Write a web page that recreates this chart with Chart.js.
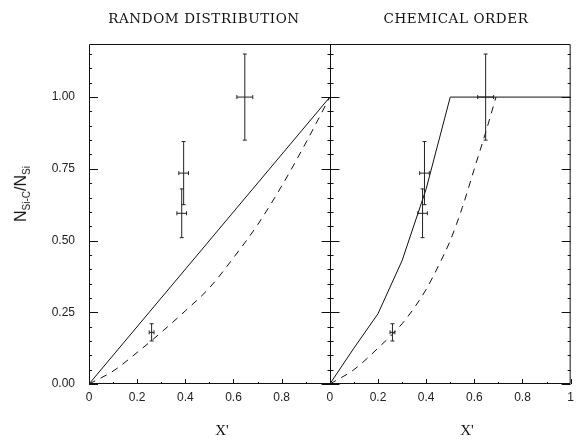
<!DOCTYPE html>
<html lang="en">
<head>
  <meta charset="UTF-8" />
  <title>N Si-C / N Si vs X'</title>
  <script src="https://cdn.jsdelivr.net/npm/chart.js"></script>
  <style>
    body { margin: 0; background: #fff; }
    #wrap { position: relative; width: 580px; height: 440px; }
    canvas { position: absolute; left: 0; top: 0; }
    .txt {
      position: absolute;
      transform: translate(-50%, -50%);
      white-space: nowrap;
      color: #111;
    }
    .title { font-family: "DejaVu Serif", serif; font-size: 13.5px; letter-spacing: 0.6px; }
    .xlab { font-family: "Liberation Serif", serif; font-size: 15px; }
    .ylab {
      font-family: "Liberation Sans", Arial, sans-serif;
      font-size: 16px;
      transform: translate(-50%, -50%) rotate(-90deg);
    }
    .ylab sub { font-size: 10px; }
  </style>
</head>
<body>
  <div id="wrap">
    <canvas id="chart" width="580" height="440"></canvas>
    <div class="txt title" style="left:204px; top:18px;">RANDOM DISTRIBUTION</div>
    <div class="txt title" style="left:456px; top:18px;">CHEMICAL ORDER</div>
    <div class="txt ylab" style="left:22px; top:194px;">N<sub>Si-C</sub>/N<sub>Si</sub></div>
    <div class="txt xlab" style="left:222px; top:430px;">X'</div>
    <div class="txt xlab" style="left:467px; top:430px;">X'</div>
  </div>

  <script>
    // measured points (same data drawn in both panels)
    const ptX    = [0.26, 0.385, 0.393, 0.647];
    const ptY    = [0.18, 0.595, 0.735, 1.00];
    const ptXErr = [0.01, 0.02, 0.02, 0.033];
    const ptYErr = [0.03, 0.085, 0.11, 0.15];

    // random distribution model
    const randomSolidX  = [0, 1];
    const randomSolidY  = [0, 1];
    const randomDashX   = [0, 0.1, 0.2, 0.3, 0.4, 0.5, 0.6, 0.7, 0.8, 0.9, 1.0];
    const randomDashY   = [0, 0.045, 0.11, 0.18, 0.255, 0.335, 0.44, 0.555, 0.69, 0.84, 1.0];

    // chemical order model
    const orderSolidX = [0, 0.1, 0.2, 0.3, 0.4, 0.5, 1.0];
    const orderSolidY = [0, 0.125, 0.245, 0.43, 0.68, 1.0, 1.0];
    const orderDashX  = [0, 0.1, 0.2, 0.3, 0.35, 0.4, 0.45, 0.5, 0.55, 0.6, 0.65, 0.69];
    const orderDashY  = [0, 0.05, 0.125, 0.21, 0.265, 0.33, 0.41, 0.5, 0.615, 0.75, 0.885, 1.0];

    // axis ticks
    const yTicks = [0, 0.25, 0.5, 0.75, 1.0];
    const yTickLabels = ['0.00', '0.25', '0.50', '0.75', '1.00'];
    const xTicks = [0, 0.2, 0.4, 0.6, 0.8, 1.0, 1.2, 1.4, 1.6, 1.8, 2.0];
    const xTickLabels = ['0', '0.2', '0.4', '0.6', '0.8', '0', '0.2', '0.4', '0.6', '0.8', '1'];

    const OFFSET = 1; // right panel sits at x + 1 on the shared axis
    const Y_MAX = 1.185;

    const pts = (xs, ys, off) => xs.map((x, i) => ({ x: x + off, y: ys[i] }));

    const lineDs = (data, dashed, smooth) => ({
      type: 'line',
      data,
      borderColor: '#111',
      borderWidth: 1,
      borderDash: dashed ? [7, 6] : [],
      pointRadius: 0,
      fill: false,
      cubicInterpolationMode: smooth ? 'monotone' : 'default',
      tension: 0
    });

    const framePlugin = {
      id: 'frame',
      afterDatasetsDraw(chart) {
        const { ctx, chartArea: a, scales: { x, y } } = chart;
        ctx.save();
        ctx.strokeStyle = '#111';
        ctx.lineWidth = 1;
        ctx.beginPath();
        ctx.rect(a.left + 0.5, a.top + 0.5, a.right - a.left - 1, a.bottom - a.top - 1);
        const mid = Math.round(x.getPixelForValue(OFFSET)) + 0.5;
        ctx.moveTo(mid, a.top);
        ctx.lineTo(mid, a.bottom);
        ctx.stroke();

        // y ticks on left border, middle divider, right border
        ctx.beginPath();
        for (let k = 0; k * 0.05 <= Y_MAX; k++) {
          const py = Math.round(y.getPixelForValue(k * 0.05)) + 0.5;
          const len = k % 5 === 0 ? 9 : 3;
          ctx.moveTo(a.left, py); ctx.lineTo(a.left + len, py);
          ctx.moveTo(mid - len, py); ctx.lineTo(mid + len, py);
          ctx.moveTo(a.right, py); ctx.lineTo(a.right - len, py);
        }
        // x ticks along the bottom
        for (let k = 0; k <= 20; k++) {
          const px = Math.round(x.getPixelForValue(k * 0.1)) + 0.5;
          const len = k % 2 === 0 ? 5 : 2;
          ctx.moveTo(px, a.bottom); ctx.lineTo(px, a.bottom - len);
        }
        ctx.stroke();

        // error bars in both panels
        ctx.strokeStyle = '#222';
        ctx.beginPath();
        [0, OFFSET].forEach(off => {
          ptX.forEach((vx, i) => {
            const cx = x.getPixelForValue(vx + off);
            const cy = y.getPixelForValue(ptY[i]);
            const x0 = x.getPixelForValue(vx + off - ptXErr[i]);
            const x1 = x.getPixelForValue(vx + off + ptXErr[i]);
            const y0 = y.getPixelForValue(ptY[i] - ptYErr[i]);
            const y1 = y.getPixelForValue(ptY[i] + ptYErr[i]);
            ctx.moveTo(x0, cy); ctx.lineTo(x1, cy);
            ctx.moveTo(x0, cy - 2); ctx.lineTo(x0, cy + 2);
            ctx.moveTo(x1, cy - 2); ctx.lineTo(x1, cy + 2);
            ctx.moveTo(cx, y0); ctx.lineTo(cx, y1);
            ctx.moveTo(cx - 2, y0); ctx.lineTo(cx + 2, y0);
            ctx.moveTo(cx - 2, y1); ctx.lineTo(cx + 2, y1);
          });
        });
        ctx.stroke();
        ctx.restore();
      }
    };

    new Chart(document.getElementById('chart'), {
      type: 'line',
      data: {
        datasets: [
          lineDs(pts(randomSolidX, randomSolidY, 0), false, false),
          lineDs(pts(randomDashX, randomDashY, 0), true, true),
          lineDs(pts(orderSolidX, orderSolidY, OFFSET), false, false),
          lineDs(pts(orderDashX, orderDashY, OFFSET), true, true)
        ]
      },
      options: {
        responsive: false,
        animation: false,
        devicePixelRatio: 1,
        layout: { padding: { top: 44, right: 1, left: 0, bottom: 0 } },
        plugins: { legend: { display: false }, tooltip: { enabled: false } },
        scales: {
          x: {
            type: 'linear',
            min: 0,
            max: 2,
            grid: { display: false, drawTicks: false },
            border: { display: false },
            afterBuildTicks: s => { s.ticks = xTicks.map(v => ({ value: v })); },
            afterFit: s => { s.height = 56; },
            ticks: {
              padding: 6,
              maxRotation: 0,
              autoSkip: false,
              color: '#222',
              font: { family: '"Liberation Sans", Arial, sans-serif', size: 12 },
              callback: (v, i) => xTickLabels[i]
            }
          },
          y: {
            type: 'linear',
            min: 0,
            max: Y_MAX,
            grid: { display: false, drawTicks: false },
            border: { display: false },
            afterBuildTicks: s => { s.ticks = yTicks.map(v => ({ value: v })); },
            afterFit: s => { s.width = 89; },
            ticks: {
              padding: 14,
              color: '#222',
              font: { family: '"Liberation Sans", Arial, sans-serif', size: 12 },
              callback: (v, i) => yTickLabels[i]
            }
          }
        }
      },
      plugins: [framePlugin]
    });
  </script>
</body>
</html>
